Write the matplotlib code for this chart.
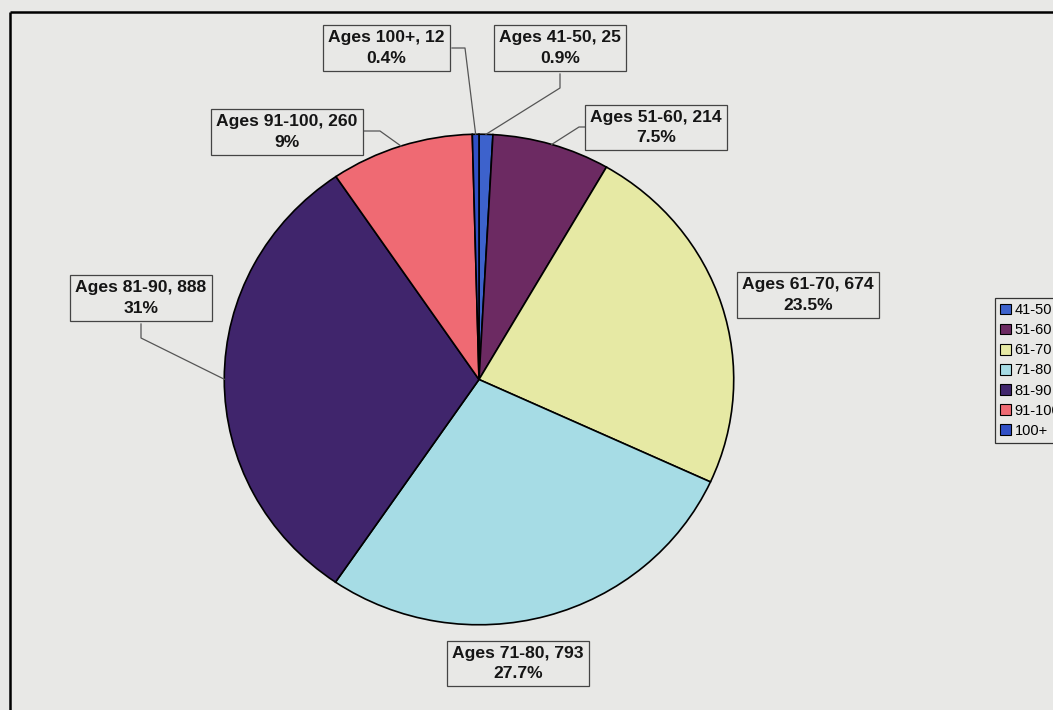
import numpy as np
import matplotlib
matplotlib.use("Agg")
import matplotlib.pyplot as plt
from matplotlib.patches import Patch

# ---- data ----
categories = ["41-50", "51-60", "61-70", "71-80", "81-90", "91-100", "100+"]
counts = [25, 214, 674, 793, 888, 260, 12]
pct_labels = ["0.9%", "7.5%", "23.5%", "27.7%", "31%", "9%", "0.4%"]
colors = ["#3d62cc", "#6c2a62", "#e6e9a4", "#a6dce5", "#40256c", "#ef6a73", "#3150c6"]

W, H = 1053, 710
BG = "#e8e8e6"
fig = plt.figure(figsize=(W / 100, H / 100), dpi=100, facecolor=BG)

# overlay axes in pixel coordinates (for frame, boxes, leaders)
ov = fig.add_axes([0, 0, 1, 1], zorder=3)
ov.set_xlim(0, W)
ov.set_ylim(H, 0)
ov.axis("off")
ov.patch.set_alpha(0)

# frame
ov.plot([10, W + 5], [12, 12], color="black", lw=1.8, solid_capstyle="butt")
ov.plot([10, 10], [12, H + 5], color="black", lw=1.8, solid_capstyle="butt")

# pie axes (slightly elliptical like the scanned reference)
px0, px1, py0, py1 = 223, 735, 133, 626
pax = fig.add_axes([px0 / W, 1 - py1 / H, (px1 - px0) / W, (py1 - py0) / H], zorder=2)
wedges, _ = pax.pie(counts, colors=colors, startangle=90, counterclock=False,
                    radius=1.0, wedgeprops=dict(edgecolor="black", linewidth=1.2))
pax.set_xlim(-1.005, 1.005)
pax.set_ylim(-1.005, 1.005)
pax.set_aspect("auto")
pax.axis("off")

# label boxes (centres in pixels) and leader elbows
label_pos = {
    "41-50": (560, 48), "51-60": (656, 127.5), "61-70": (808, 295),
    "71-80": (518, 663.5), "81-90": (141, 298), "91-100": (287, 132),
    "100+": (386, 48),
}
elbows = {
    "100+": [(452, 48), (465, 48)],
    "41-50": [(560, 74), (560, 88)],
    "51-60": [(585, 127), (579, 127)],
    "91-100": [(363, 131), (380, 131)],
    "81-90": [(141, 324), (141, 338)],
}

total = float(sum(counts))
cum = 0.0
to_px = ov.transData.inverted()
for cat, n, p in zip(categories, counts, pct_labels):
    mid = (cum + n / 2) / total * 2 * np.pi
    cum += n
    x, y = label_pos[cat]
    ov.text(x, y, f"Ages {cat}, {n}\n{p}", ha="center", va="center",
            fontsize=12.6, fontweight="bold", family=["Liberation Sans", "DejaVu Sans"],
            color="#151515", linespacing=1.42,
            bbox=dict(boxstyle="square,pad=0.3", facecolor=BG, edgecolor="#444444", lw=0.9))
    if cat in elbows:
        edge = pax.transData.transform((np.sin(mid), np.cos(mid)))
        ex, ey = to_px.transform(edge)
        pts = elbows[cat] + [(ex, ey)]
        ov.plot([q[0] for q in pts], [q[1] for q in pts], color="#555555", lw=0.9)

# legend
handles = [Patch(facecolor=c, edgecolor="black", lw=0.8) for c in colors]
leg = fig.legend(handles, categories, loc="upper left",
                 bbox_to_anchor=(995 / W, 1 - 298 / H), frameon=True, fancybox=False,
                 edgecolor="#333333", facecolor=BG, framealpha=1,
                 prop=dict(family=["Liberation Sans", "DejaVu Sans"], size=10.5),
                 handlelength=0.75, handleheight=0.75, handletextpad=0.25,
                 labelspacing=0.42, borderpad=0.35, borderaxespad=0)
leg.get_frame().set_linewidth(0.9)

fig.savefig("out.png", dpi=100, facecolor=BG)
